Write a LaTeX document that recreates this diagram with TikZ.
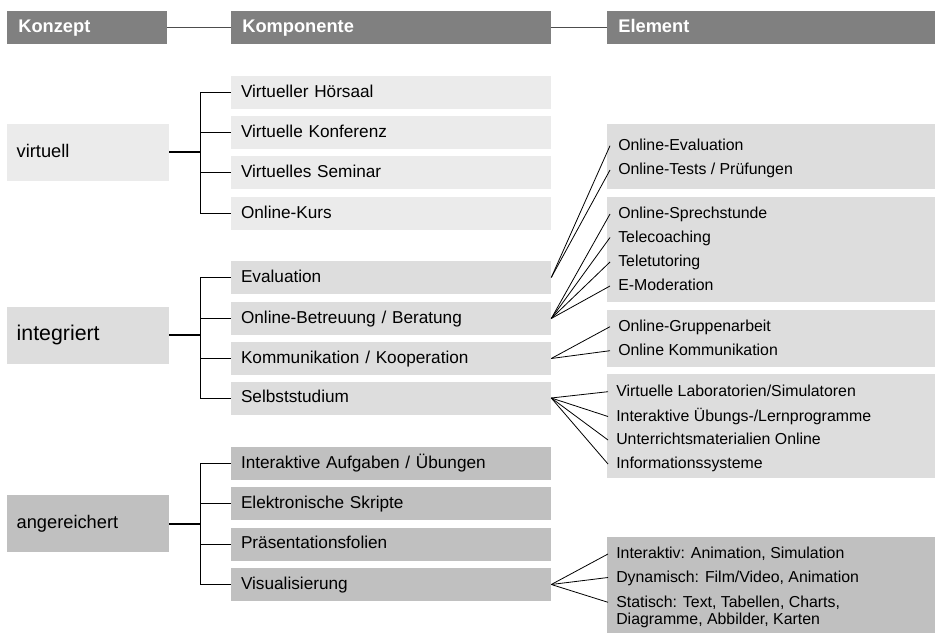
\documentclass[tikz,border=0pt]{standalone}
\usepackage{fontspec}
\setmainfont{Liberation Sans}
\usetikzlibrary{positioning}
\definecolor{headgray}{HTML}{808080}
\definecolor{virgray}{HTML}{EBEBEB}
\definecolor{intgray}{HTML}{DDDDDD}
\definecolor{angray}{HTML}{C0C0C0}

\begin{document}
\begin{tikzpicture}
		[x=0.75pt, y=-0.75pt, inner sep=0pt,
		header/.style	= {rectangle, fill=headgray, text=white, font=\bfseries\fontsize{13.7}{16}\selectfont, minimum height=24.75pt, inner xsep=8.5pt, align=left, text height=.72em, text depth=0pt},
		concept/.style	= {rectangle, minimum height=42.75pt, text width=107pt, inner xsep=7.25pt, align=left, text height=.72em, text depth=0pt},
		comp/.style		= {rectangle, minimum height=24.75pt, text width=225pt, inner xsep=7.5pt, align=left, font=\fontsize{12.9}{15}\selectfont, text height=.72em, text depth=0pt},
		elembox/.style	= {rectangle, minimum width=246pt},
		elem/.style		= {anchor=west, inner xsep=6pt, font=\fontsize{11.9}{14}\selectfont, text height=.72em, text depth=0pt},
		stub/.style		= {line width=1.5pt},
		branch/.style	= {line width=0.75pt},
		link/.style		= {line width=0.6pt},
		headline/.style	= {line width=1pt, draw=headgray!60!black}]
		
		\useasboundingbox (0,0) rectangle (938,634);
		
		\node at (87, 27.5)		[header, text width=103pt]		(hk)	{Konzept};
		\node at (391, 27.5)	[header, text width=223pt]		(hc)	{Komponente};
		\node at (771, 27.5)	[header, text width=229pt]		(he)	{Element};
		
		\node at (88, 152.5)	[concept, fill=virgray, font=\fontsize{13.7}{16}\selectfont]	(vir)	{virtuell};
		\node at (88, 335.5)	[concept, fill=intgray, font=\fontsize{16}{19}\selectfont]		(int)	{integriert};
		\node at (88, 523.5)	[concept, fill=angray, font=\fontsize{13.7}{16}\selectfont]		(ang)	{angereichert};
		
		\node at (391, 92.5)	[comp, fill=virgray]	(vh)	{Virtueller Hörsaal};
		\node at (391, 132.5)	[comp, fill=virgray]	(vk)	{Virtuelle Konferenz};
		\node at (391, 172.5)	[comp, fill=virgray]	(vs)	{Virtuelles Seminar};
		\node at (391, 213.5)	[comp, fill=virgray]	(vo)	{Online-Kurs};
		
		\node at (391, 277.5)	[comp, fill=intgray]	(iev)	{Evaluation};
		\node at (391, 318.5)	[comp, fill=intgray]	(ibe)	{Online-Betreuung / Beratung};
		\node at (391, 358.5)	[comp, fill=intgray]	(iko)	{Kommunikation / Kooperation};
		\node at (391, 398)		[comp, fill=intgray]	(ise)	{Selbststudium};
		
		\node at (391, 463.5)	[comp, fill=angray]		(aau)	{Interaktive Aufgaben / Übungen};
		\node at (391, 503.5)	[comp, fill=angray]		(ask)	{Elektronische Skripte};
		\node at (391, 544)		[comp, fill=angray]		(apr)	{Präsentationsfolien};
		\node at (391, 584.5)	[comp, fill=angray]		(avi)	{Visualisierung};
		
		\node at (771, 156.5)	[elembox, fill=intgray, minimum height=48.75pt]	(b1)	{};
		\node at (771, 249.5)	[elembox, fill=intgray, minimum height=78.75pt]	(b2)	{};
		\node at (771, 338.5)	[elembox, fill=intgray, minimum height=42.75pt]	(b3)	{};
		\node at (771, 426)		[elembox, fill=intgray, minimum height=78pt]	(b4)	{};
		\node at (771, 585)		[elembox, fill=angray, minimum height=72pt]		(b5)	{};
		
		\node at (610, 145.7)	[elem]	(oev)	{Online-Evaluation};
		\node at (610, 170)		[elem]	(ote)	{Online-Tests / Prüfungen};
		
		\node at (610, 214)		[elem]	(osp)	{Online-Sprechstunde};
		\node at (610, 237.5)	[elem]	(tco)	{Telecoaching};
		\node at (610, 262)		[elem]	(ttu)	{Teletutoring};
		\node at (610, 286)		[elem]	(emo)	{E-Moderation};
		
		\node at (610, 326.7)	[elem]	(ogr)	{Online-Gruppenarbeit};
		\node at (610, 350.7)	[elem]	(oko)	{Online Kommunikation};
		
		\node at (608, 391.7)	[elem]	(vla)	{Virtuelle Laboratorien/Simulatoren};
		\node at (608, 416.5)	[elem]	(iue)	{Interaktive Übungs-/Lernprogramme};
		\node at (608, 440)		[elem]	(umo)	{Unterrichtsmaterialien Online};
		\node at (608, 464)		[elem]	(isy)	{Informationssysteme};
		
		\node at (608, 554)		[elem]	(ian)	{Interaktiv: Animation, Simulation};
		\node at (608, 577.5)	[elem]	(dfi)	{Dynamisch: Film/Video, Animation};
		\node at (608, 602.3)	[elem]	(ste)	{Statisch: Text, Tabellen, Charts,};
		\node at (608, 620)		[elem]	(sdi)	{Diagramme, Abbilder, Karten};
		
		\coordinate (vj) at (200, 152.5);
		\coordinate (ij) at (200, 335.5);
		\coordinate (aj) at (200, 523.5);
		
		\draw [headline] (hk.east) -- (hc.west);
		\draw [headline] (hc.east) -- (he.west);
		
		\draw [stub] (vir.east) -- (vj);
		\draw [stub] (int.east) -- (ij);
		\draw [stub] (ang.east) -- (aj);
		
		\draw [branch] (vj) |- (vh.west);
		\draw [branch] (vj) |- (vk.west);
		\draw [branch] (vj) |- (vs.west);
		\draw [branch] (vj) |- (vo.west);
		
		\draw [branch] (ij) |- (iev.west);
		\draw [branch] (ij) |- (ibe.west);
		\draw [branch] (ij) |- (iko.west);
		\draw [branch] (ij) |- (ise.west);
		
		\draw [branch] (aj) |- (aau.west);
		\draw [branch] (aj) |- (ask.west);
		\draw [branch] (aj) |- (apr.west);
		\draw [branch] (aj) |- (avi.west);
		
		\draw [link] (iev.east) -- (oev.west);
		\draw [link] (iev.east) -- (ote.west);
		
		\draw [link] (ibe.east) -- (osp.west);
		\draw [link] (ibe.east) -- (tco.west);
		\draw [link] (ibe.east) -- (ttu.west);
		\draw [link] (ibe.east) -- (emo.west);
		
		\draw [link] (iko.east) -- (ogr.west);
		\draw [link] (iko.east) -- (oko.west);
		
		\draw [link] (ise.east) -- (vla.west);
		\draw [link] (ise.east) -- (iue.west);
		\draw [link] (ise.east) -- (umo.west);
		\draw [link] (ise.east) -- (isy.west);
		
		\draw [link] (avi.east) -- (ian.west);
		\draw [link] (avi.east) -- (dfi.west);
		\draw [link] (avi.east) -- (ste.west);
		
		\end{tikzpicture}
\end{document}
